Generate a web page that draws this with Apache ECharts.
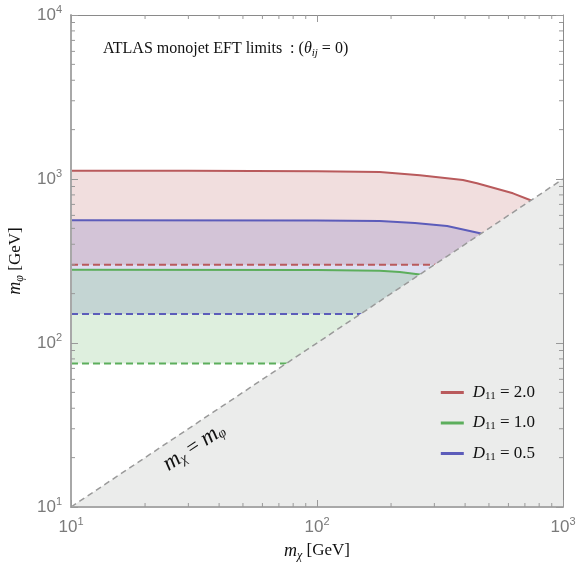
<!DOCTYPE html>
<html><head><meta charset="utf-8">
<script src="https://cdn.jsdelivr.net/npm/echarts@6/dist/echarts.min.js"></script>
<style>html,body{margin:0;padding:0;background:#fff}#c{width:576px;height:563px}</style>
</head><body><div id="c"></div>
<script>
// ---- data ----
const xRange = [10, 1000];
const yRange = [10, 10000];

const mChiRed   = [10, 30, 100, 180, 262, 392, 447, 626, 734, 1000];
const mPhiRed   = [1123, 1123, 1115, 1103, 1053, 986, 941, 818, 745, 560];
const mChiBlue  = [10, 100, 180, 250, 338, 460, 700, 1000];
const mPhiBlue  = [560, 558, 554, 540, 517, 467, 360, 272];
const mChiGreen = [10, 100, 180, 217, 262, 400, 600, 1000];
const mPhiGreen = [280, 279, 276, 271, 262, 220, 175, 135];

const dashRed = 300, dashBlue = 150, dashGreen = 75;

const legendNames = ['2.0', '1.0', '0.5'];
const xMinorTicks = [20,30,40,50,60,70,80,90,200,300,400,500,600,700,800,900];
const yMinorTicks = [20,30,40,50,60,70,80,90,200,300,400,500,600,700,800,900,2000,3000,4000,5000,6000,7000,8000,9000];

const C_RED = '#b95a5c', C_GREEN = '#5cae5c', C_BLUE = '#5c5cba';

function pairs(xs, ys) { return xs.map((x, i) => [x, ys[i]]); }

function bandSeries(xs, ys, low, color) {
  return {
    type: 'custom', z: 1, silent: true, clip: true,
    data: [[xs[0], ys[0]]],
    renderItem: function (params, api) {
      const pts = xs.map((x, i) => api.coord([x, ys[i]]));
      const lowPts = [api.coord([xs[xs.length - 1], low]), api.coord([xs[0], low])];
      return { type: 'polygon', shape: { points: pts.concat(lowPts) },
        style: { fill: color, opacity: 0.2 } };
    }
  };
}
function lineSeries(name, xs, ys, color) {
  return { name: name, type: 'line', z: 2, data: pairs(xs, ys), showSymbol: false, symbol: 'none',
    lineStyle: { color: color, width: 2 }, itemStyle: { color: color }, silent: true };
}
function dashSeries(val, color) {
  return { type: 'line', z: 2, data: [[xRange[0], val], [xRange[1], val]], symbol: 'none', silent: true,
    lineStyle: { color: color, width: 2, type: [7, 4] } };
}

const supRich = {
  b: { fontFamily: 'Liberation Sans', fontSize: 17, color: '#7a7a7a', lineHeight: 22 },
  s: { fontFamily: 'Liberation Sans', fontSize: 11, color: '#7a7a7a', verticalAlign: 'top', lineHeight: 14 }
};
function powLabel(v) { return '{b|10}{s|' + Math.round(Math.log10(v)) + '}'; }

const serif = 'Liberation Serif';
const nameRich = {
  n: { fontFamily: serif, fontSize: 17, fontWeight: 'normal', color: '#111', lineHeight: 22 },
  i: { fontFamily: serif, fontStyle: 'italic', fontWeight: 'normal', fontSize: 18, color: '#111', lineHeight: 22 },
  sb: { fontFamily: serif, fontStyle: 'italic', fontWeight: 'normal', fontSize: 12, color: '#111', verticalAlign: 'bottom', lineHeight: 16 }
};
const option = {
  animation: false,
  grid: { left: 71, right: 13, top: 15, bottom: 56, containLabel: false, outerBoundsMode: 'none' },
  title: {
    left: 98, top: 34,
    text: '{n|ATLAS monojet EFT limits  : (}{i|θ}{sb|ij}{n| = 0)}',
    textStyle: { fontWeight: 'normal', rich: {
      n: { fontFamily: serif, fontSize: 16, fontWeight: 'normal', color: '#111', lineHeight: 20 },
      i: { fontFamily: serif, fontStyle: 'italic', fontWeight: 'normal', fontSize: 16, color: '#111', lineHeight: 20 },
      sb: { fontFamily: serif, fontStyle: 'italic', fontWeight: 'normal', fontSize: 11, color: '#111', verticalAlign: 'bottom', lineHeight: 14 }
    } }
  },
  xAxis: [{
    type: 'log', logBase: 10, min: xRange[0], max: xRange[1], z: 10,
    axisLine: { lineStyle: { color: '#a8a8a8', width: 2 } },
    axisTick: { inside: true, length: 7, lineStyle: { color: '#999' } },
    axisLabel: { formatter: powLabel, rich: supRich, margin: 9 },
    splitLine: { show: false },
    name: '{i|m}{sb|χ}{n| [GeV]}', nameLocation: 'middle', nameGap: 33,
    nameTextStyle: { rich: nameRich }
  }, {
    type: 'log', logBase: 10, min: xRange[0], max: xRange[1], position: 'top', z: 10,
    axisLine: { lineStyle: { color: '#8a8a8a', width: 1 } },
    axisTick: { inside: true, length: 7, lineStyle: { color: '#999' } },
    axisLabel: { show: false }, splitLine: { show: false }
  }],
  yAxis: [{
    type: 'log', logBase: 10, min: yRange[0], max: yRange[1], z: 10,
    axisLine: { lineStyle: { color: '#a8a8a8', width: 2 } },
    axisTick: { inside: true, length: 7, lineStyle: { color: '#999' } },
    axisLabel: { formatter: powLabel, rich: supRich, margin: 9 },
    splitLine: { show: false },
    name: '{i|m}{sb|φ}{n| [GeV]}', nameLocation: 'middle', nameGap: 43,
    nameTextStyle: { rich: nameRich }
  }, {
    type: 'log', logBase: 10, min: yRange[0], max: yRange[1], position: 'right', z: 10,
    axisLine: { lineStyle: { color: '#8a8a8a', width: 1 } },
    axisTick: { inside: true, length: 7, lineStyle: { color: '#999' } },
    axisLabel: { show: false }, splitLine: { show: false }
  }],
  legend: {
    orient: 'vertical', right: 36, top: 379, z: 20,
    itemWidth: 23, itemHeight: 3, itemGap: 13, icon: 'rect',
    data: legendNames,
    formatter: function (n) { return '{i|D}{sb|11}{n| = ' + n + '}'; },
    textStyle: { padding: [0, 0, 0, 4], rich: {
      n: { fontFamily: serif, fontSize: 17, color: '#111', lineHeight: 18 },
      i: { fontFamily: serif, fontStyle: 'italic', fontSize: 17, color: '#111', lineHeight: 18 },
      sb: { fontFamily: serif, fontSize: 11, color: '#111', verticalAlign: 'bottom', lineHeight: 13 }
    } }
  },
  graphic: [{
    type: 'text', x: 194, y: 447, rotation: Math.atan(164 / 246), z: 30,
    style: {
      text: '{i|m}{sb|χ}{n| = }{i|m}{sb|φ}', align: 'center', verticalAlign: 'middle',
      rich: {
        n: { fontFamily: serif, fontSize: 21, fill: '#111' },
        i: { fontFamily: serif, fontStyle: 'italic', fontSize: 23, fill: '#111' },
        sb: { fontFamily: serif, fontStyle: 'italic', fontSize: 14, fill: '#111', verticalAlign: 'bottom' }
      }
    }
  }],
  series: [
    bandSeries(mChiRed, mPhiRed, dashRed, C_RED),
    bandSeries(mChiBlue, mPhiBlue, dashBlue, C_BLUE),
    bandSeries(mChiGreen, mPhiGreen, dashGreen, C_GREEN),
    dashSeries(dashRed, C_RED),
    dashSeries(dashBlue, C_BLUE),
    dashSeries(dashGreen, C_GREEN),
    lineSeries('2.0', mChiRed, mPhiRed, C_RED),
    lineSeries('1.0', mChiGreen, mPhiGreen, C_GREEN),
    lineSeries('0.5', mChiBlue, mPhiBlue, C_BLUE),
    { // excluded region m_phi < m_chi
      type: 'custom', z: 5, silent: true, data: [[xRange[0], yRange[0]]],
      renderItem: function (p, api) {
        return { type: 'polygon', shape: { points: [
          api.coord([xRange[0], xRange[0]]), api.coord([xRange[1], yRange[0]]), api.coord([xRange[1], xRange[1]])
        ] }, style: { fill: '#ebeceb' } };
      }
    },
    { type: 'line', z: 6, silent: true, symbol: 'none',
      data: [[xRange[0], xRange[0]], [xRange[1], xRange[1]]],
      lineStyle: { color: '#9a9a9a', width: 1.5, type: [6, 4] } },
    { // minor ticks on x axes
      type: 'custom', z: 12, silent: true, clip: false,
      data: xMinorTicks.map(v => [v, yRange[0]]),
      renderItem: function (p, api) {
        const v = api.value(0);
        const b = api.coord([v, yRange[0]]), t = api.coord([v, yRange[1]]);
        return { type: 'group', children: [
          { type: 'line', shape: { x1: b[0], y1: b[1], x2: b[0], y2: b[1] - 4 }, style: { stroke: '#999', lineWidth: 1 } },
          { type: 'line', shape: { x1: t[0], y1: t[1], x2: t[0], y2: t[1] + 4 }, style: { stroke: '#999', lineWidth: 1 } }
        ] };
      }
    },
    { // minor ticks on y axes
      type: 'custom', z: 12, silent: true, clip: false,
      data: yMinorTicks.map(v => [xRange[0], v]),
      renderItem: function (p, api) {
        const v = api.value(1);
        const l = api.coord([xRange[0], v]), r = api.coord([xRange[1], v]);
        return { type: 'group', children: [
          { type: 'line', shape: { x1: l[0], y1: l[1], x2: l[0] + 4, y2: l[1] }, style: { stroke: '#999', lineWidth: 1 } },
          { type: 'line', shape: { x1: r[0], y1: r[1], x2: r[0] - 4, y2: r[1] }, style: { stroke: '#999', lineWidth: 1 } }
        ] };
      }
    }
  ]
};
const chart = echarts.init(document.getElementById('c'), null, { renderer: 'canvas' });
chart.setOption(option);
</script>
</body></html>
